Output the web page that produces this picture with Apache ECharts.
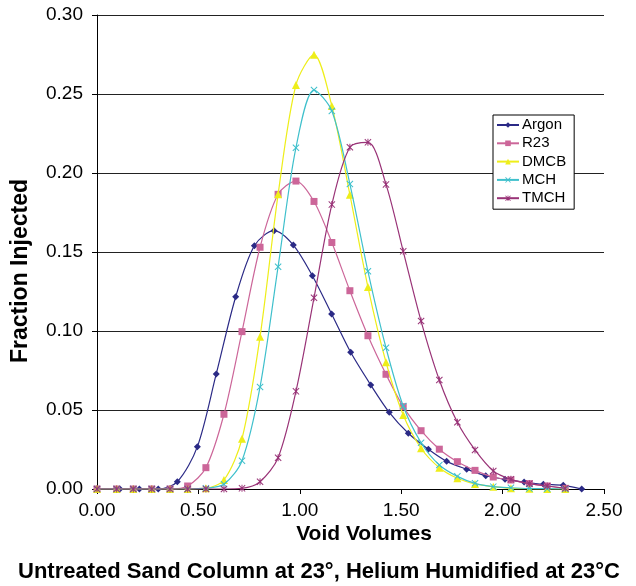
<!DOCTYPE html>
<html>
<head>
<meta charset="utf-8">
<script src="https://cdn.jsdelivr.net/npm/echarts@6/dist/echarts.min.js"></script>
<style>html,body{margin:0;padding:0;background:#fff;}#chart{width:636px;height:586px;}</style>
</head>
<body>
<div id="chart"></div>
<script>
const seriesNames = ['Argon', 'R23', 'DMCB', 'MCH', 'TMCH'];
const xTicks = [0, 0.5, 1.0, 1.5, 2.0, 2.5];
const yTicks = [0, 0.05, 0.10, 0.15, 0.20, 0.25, 0.30];

const argonX = [0.0, 0.113, 0.209, 0.302, 0.396, 0.495, 0.588, 0.684, 0.776, 0.873, 0.968, 1.062, 1.157, 1.251, 1.350, 1.441, 1.535, 1.634, 1.724, 1.823, 1.917, 2.012, 2.106, 2.201, 2.299, 2.390];
const argonY = [0, 0, 0, 0, 0.0046, 0.0268, 0.0728, 0.1217, 0.154, 0.1635, 0.1544, 0.135, 0.1108, 0.0865, 0.0658, 0.0485, 0.0353, 0.0251, 0.0175, 0.0125, 0.0084, 0.0061, 0.0044, 0.003, 0.0023, 0.0];

const sharedX = [0.0, 0.097, 0.179, 0.270, 0.360, 0.447, 0.537, 0.626, 0.715, 0.804, 0.893, 0.981, 1.070, 1.158, 1.247, 1.336, 1.425, 1.510, 1.598, 1.688, 1.777, 1.864, 1.954, 2.041, 2.132, 2.220, 2.309];
const r23Y = [0, 0, 0, 0, 0, 0.0019, 0.0135, 0.0473, 0.0996, 0.153, 0.1865, 0.1949, 0.182, 0.156, 0.1255, 0.097, 0.0726, 0.0521, 0.0369, 0.0252, 0.0173, 0.0118, 0.0076, 0.0057, 0.0034, 0.0019, 0.0004];
const dmcbY = [0, 0, 0, 0, 0, 0, 0.0005, 0.0057, 0.0318, 0.0964, 0.1865, 0.2557, 0.2749, 0.2424, 0.1863, 0.1278, 0.0802, 0.0468, 0.0258, 0.0135, 0.0068, 0.0032, 0.0015, 0.0004, 0.0002, 0, 0];
const mchY = [0, 0, 0, 0, 0, 0, 0.0005, 0.003, 0.0179, 0.0646, 0.1407, 0.216, 0.2525, 0.2392, 0.193, 0.1378, 0.0894, 0.0525, 0.0293, 0.0152, 0.008, 0.0036, 0.0015, 0.0008, 0.0003, 0.0002, 0];
const tmchY = [0, 0, 0, 0, 0, 0, 0, 0, 0.0004, 0.0046, 0.0198, 0.0618, 0.121, 0.18, 0.2163, 0.2194, 0.1928, 0.1504, 0.1063, 0.069, 0.0422, 0.0247, 0.0114, 0.0061, 0.0034, 0.0019, 0.0004];

const xTitle = 'Void Volumes';
const yTitle = 'Fraction Injected';
const caption = 'Untreated Sand Column at 23°, Helium Humidified at 23°C';

function pairs(xs, ys) { return xs.map((x, i) => [x, ys[i]]); }

const colors = ['#2B2A86', '#CC6699', '#EEEE1A', '#3FC0CC', '#993377'];
const xPath = 'path://M0,1 L1,0 L5,4 L9,0 L10,1 L6,5 L10,9 L9,10 L5,6 L1,10 L0,9 L4,5 Z';
const starPath = 'path://M0,1 L1,0 L5,4 L9,0 L10,1 L6,5 L10,9 L9,10 L5,6 L1,10 L0,9 L4,5 Z M4.3,0 L5.7,0 L5.7,10 L4.3,10 Z';
const symbols = ['diamond', 'rect', 'triangle', xPath, starPath];
const sizes = [7, 7, 8, 7, 7];
const datas = [pairs(argonX, argonY), pairs(sharedX, r23Y), pairs(sharedX, dmcbY), pairs(sharedX, mchY), pairs(sharedX, tmchY)];

const font = 'Liberation Sans, Arial, sans-serif';
const chart = echarts.init(document.getElementById('chart'), null, {renderer: 'canvas'});
chart.setOption({
  animation: false,
  textStyle: {fontFamily: font},
  grid: {left: 97, right: 32, top: 15, bottom: 97, containLabel: false},
  xAxis: {
    type: 'value', min: 0, max: 2.5, interval: 0.5,
    axisLine: {show: true, lineStyle: {color: '#000', width: 1}},
    axisTick: {show: true, inside: false, length: 5, lineStyle: {color: '#000'}},
    axisLabel: {fontSize: 19, color: '#000', margin: 12, fontFamily: font, formatter: v => v.toFixed(2)},
    splitLine: {show: false}
  },
  yAxis: {
    type: 'value', min: 0, max: 0.3, interval: 0.05,
    axisLine: {show: true, lineStyle: {color: '#000', width: 1}},
    axisTick: {show: true, inside: false, length: 5, lineStyle: {color: '#000'}},
    axisLabel: {fontSize: 19, color: '#000', margin: 14, fontFamily: font, formatter: v => v.toFixed(2)},
    splitLine: {show: true, lineStyle: {color: '#222', width: 1}}
  },
  legend: {
    orient: 'vertical', left: 493, top: 115,
    backgroundColor: '#fff', borderColor: '#000', borderWidth: 1, borderRadius: 0,
    padding: [1, 8, 2, 3], itemGap: 0.3, itemWidth: 22, itemHeight: 7,
    textStyle: {fontSize: 15, lineHeight: 18, color: '#000', fontFamily: font, padding: [0, 0, 0, -2]},
    data: seriesNames
  },
  graphic: [{
    type: 'text', x: 364, y: 534,
    style: {text: xTitle, font: 'bold 21px ' + font, fill: '#000', align: 'center', verticalAlign: 'middle'}
  }, {
    type: 'text', x: 21, y: 271, rotation: Math.PI / 2,
    style: {text: yTitle, font: 'bold 23px ' + font, fill: '#000', align: 'center', verticalAlign: 'middle'}
  }, {
    type: 'text', x: 319, y: 572,
    style: {text: caption, font: 'bold 22px ' + font, fill: '#000', align: 'center', verticalAlign: 'middle'}
  }],
  series: seriesNames.map((n, i) => ({
    name: n, type: 'line', data: datas[i], smooth: 0.3,
    symbol: symbols[i], symbolSize: sizes[i], showSymbol: true,
    lineStyle: {color: colors[i], width: 1.2},
    itemStyle: {color: colors[i]},
    z: 2 + i
  }))
});
</script>
</body>
</html>
